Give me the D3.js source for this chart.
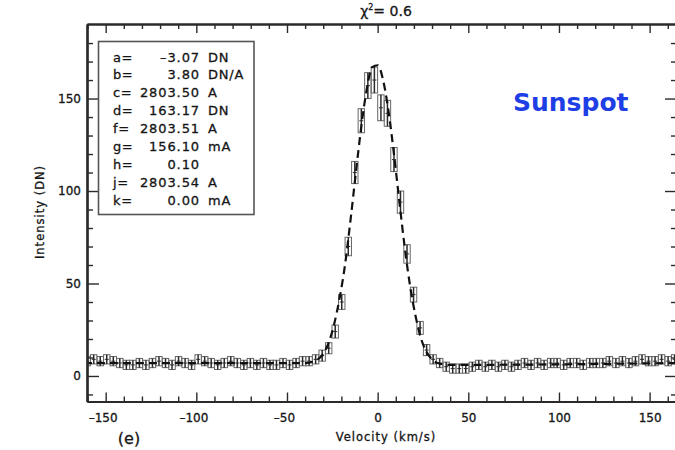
<!DOCTYPE html>
<html lang="en">
<head>
<meta charset="utf-8">
<script src="https://d3js.org/d3.v7.min.js"></script>
<style>
  body { margin: 0; background: #fff; }
  svg { display: block; }
  text { font-family: "DejaVu Sans", sans-serif; fill: #151515; stroke: #151515; stroke-width: 0.3; }
  .axis path, .axis line { stroke: #2a2a2a; }
  .axis .domain { stroke-width: 2.2; }
  .axis line { stroke-width: 1.4; }
  .axis text { font-size: 12px; font-family: "DejaVu Sans", sans-serif; fill: #151515; stroke: #151515; stroke-width: 0.3; }
</style>
</head>
<body>
<script>
// measured points (velocity in km/s, intensity in DN, 1-sigma error)
var velocity = [
  -160.2, -156.6, -153.0, -149.4, -145.8, -142.2, -138.6, -135.0, -131.4, -127.8,
  -124.2, -120.6, -117.0, -113.4, -109.8, -106.2, -102.6, -99.0, -95.4, -91.8,
  -88.2, -84.6, -81.0, -77.4, -73.8, -70.2, -66.6, -63.0, -59.4, -55.8,
  -52.2, -48.6, -45.0, -41.4, -37.8, -34.2, -30.6, -27.0, -23.4, -19.8,
  -16.2, -12.6, -9.0, -5.4, -1.8, 1.8, 5.4, 9.0, 12.6, 16.2,
  19.8, 23.4, 27.0, 30.6, 34.2, 37.8, 41.4, 45.0, 48.6, 52.2,
  55.8, 59.4, 63.0, 66.6, 70.2, 73.8, 77.4, 81.0, 84.6, 88.2,
  91.8, 95.4, 99.0, 102.6, 106.2, 109.8, 113.4, 117.0, 120.6, 124.2,
  127.8, 131.4, 135.0, 138.6, 142.2, 145.8, 149.4, 153.0, 156.6, 160.2,
  163.8
];
var intensity = [
  8, 9, 8, 9, 8, 7, 6, 6, 7, 6,
  7, 8, 7, 6, 8, 7, 6, 9, 8, 7,
  6, 7, 8, 7, 6, 7, 6, 7, 6, 6,
  7, 6, 7, 8, 8, 9, 11, 15, 24, 40,
  70, 110, 138, 157, 160, 145, 142, 117, 94, 66,
  44, 26, 14, 9, 7, 5, 4, 4, 4, 5,
  6, 5, 6, 5, 6, 5, 6, 7, 6, 7,
  6, 7, 7, 6, 7, 7, 6, 7, 7, 7,
  8, 7, 8, 7, 8, 9, 8, 8, 9, 8,
  9
];
var errors = [
  2.5, 2.5, 2.5, 2.5, 2.5, 2.5, 2.5, 2.5, 2.5, 2.5,
  2.5, 2.5, 2.5, 2.5, 2.5, 2.5, 2.5, 2.5, 2.5, 2.5,
  2.5, 2.5, 2.5, 2.5, 2.5, 2.5, 2.5, 2.5, 2.5, 2.5,
  2.5, 2.5, 2.5, 2.5, 2.5, 2.5, 3, 3, 3.5, 4,
  5, 6, 6.5, 7, 7, 7, 7, 6.5, 6, 5,
  4, 3.5, 3, 2.5, 2.5, 2.5, 2.5, 2.5, 2.5, 2.5,
  2.5, 2.5, 2.5, 2.5, 2.5, 2.5, 2.5, 2.5, 2.5, 2.5,
  2.5, 2.5, 2.5, 2.5, 2.5, 2.5, 2.5, 2.5, 2.5, 2.5,
  2.5, 2.5, 2.5, 2.5, 2.5, 2.5, 2.5, 2.5, 2.5, 2.5,
  2.5
];

// fitted profile (dashed)
var fitVelocity  = [-162, -40, -33, -30, -27, -24, -21, -18, -15, -12, -9, -6, -3, 0, 3, 6, 9, 12, 15, 18, 21, 24, 27, 30, 33, 40, 166];
var fitIntensity = [7, 7, 9, 12, 18, 28, 42, 60, 84, 110, 135, 155, 167, 168, 160, 143, 120, 94, 69, 48, 32, 20, 13, 9, 7, 6, 7];

var xMajorTicks = [-150, -100, -50, 0, 50, 100, 150];
var xMinorTicks = [-160, -140, -130, -120, -110, -90, -80, -70, -60, -40, -30, -20, -10,
                   10, 20, 30, 40, 60, 70, 80, 90, 110, 120, 130, 140, 160];
var yMajorTicks = [0, 50, 100, 150];
var yMinorTicks = [-10, 10, 20, 30, 40, 60, 70, 80, 90, 110, 120, 130, 140, 160, 170, 180];

var fitNames  = ["a=", "b=", "c=", "d=", "f=", "g=", "h=", "j=", "k="];
var fitValues = ["-3.07", "3.80", "2803.50", "163.17", "2803.51", "156.10", "0.10", "2803.54", "0.00"];
var fitUnits  = ["DN", "DN/A", "A", "DN", "A", "mA", "", "A", "mA"];

var width = 675, height = 450;
var plot = {left: 87, right: 677, top: 24, bottom: 401.5};

var svg = d3.select("body").append("svg")
    .attr("width", width)
    .attr("height", height);

var x = d3.scaleLinear().domain([-160.3, 165.1]).range([plot.left, plot.right]);
var y = d3.scaleLinear().domain([-13.8, 190.3]).range([plot.bottom, plot.top]);

svg.append("clipPath").attr("id", "clip")
  .append("rect")
    .attr("x", plot.left).attr("y", plot.top)
    .attr("width", plot.right - plot.left)
    .attr("height", plot.bottom - plot.top);

var points = velocity.map(function(v, i) {
  return {v: v, i: intensity[i], e: errors[i]};
});

// data: error box + bar
var pts = svg.append("g")
    .attr("clip-path", "url(#clip)")
    .selectAll("g")
    .data(points)
    .enter().append("g")
      .attr("stroke", "#2a2a2a")
      .attr("stroke-width", 1)
      .attr("fill", "none");

pts.append("rect")
    .attr("x", d => x(d.v) - 3.2)
    .attr("y", d => y(d.i + d.e))
    .attr("width", 6.4)
    .attr("height", d => y(d.i - d.e) - y(d.i + d.e))
    .attr("stroke", "#666");

pts.append("line")
    .attr("x1", d => x(d.v)).attr("x2", d => x(d.v))
    .attr("y1", d => y(d.i + d.e)).attr("y2", d => y(d.i - d.e))
    .attr("stroke-width", 1.5);

pts.append("line")
    .attr("x1", d => x(d.v) - 2).attr("x2", d => x(d.v) + 2)
    .attr("y1", d => y(d.i)).attr("y2", d => y(d.i));

// fitted line
var line = d3.line()
    .x((d, i) => x(fitVelocity[i]))
    .y(d => y(d))
    .curve(d3.curveMonotoneX);

svg.append("path")
    .attr("clip-path", "url(#clip)")
    .datum(fitIntensity)
    .attr("d", line)
    .attr("fill", "none")
    .attr("stroke", "#111")
    .attr("stroke-width", 2.2)
    .attr("stroke-dasharray", "8,5");

// axes, IDL style with inward ticks
function addAxis(axisFn, scale, ticks, size, transform, labels) {
  var ax = axisFn(scale).tickValues(ticks).tickSizeInner(-size).tickSizeOuter(0);
  if (labels) {
    ax.tickPadding(labels).tickFormat(d => d < 0 ? "\u2013" + Math.abs(d) : d);
  } else {
    ax.tickFormat("");
  }
  return svg.append("g")
      .attr("class", "axis")
      .attr("transform", transform)
      .call(ax);
}

addAxis(d3.axisBottom, x, xMinorTicks, 5, "translate(0," + plot.bottom + ")");
var xAx = addAxis(d3.axisBottom, x, xMajorTicks, 9, "translate(0," + plot.bottom + ")", 12);
addAxis(d3.axisTop, x, xMinorTicks, 5, "translate(0," + plot.top + ")");
addAxis(d3.axisTop, x, xMajorTicks, 9, "translate(0," + plot.top + ")");
addAxis(d3.axisLeft, y, yMinorTicks, 6, "translate(" + plot.left + ",0)");
addAxis(d3.axisLeft, y, yMajorTicks, 12, "translate(" + plot.left + ",0)", 6);
addAxis(d3.axisRight, y, yMinorTicks, 6, "translate(" + plot.right + ",0)");
addAxis(d3.axisRight, y, yMajorTicks, 12, "translate(" + plot.right + ",0)");

xAx.selectAll("text").attr("dx", d => d < 0 ? "-3" : "0");

// axis titles
svg.append("text")
    .attr("x", 386).attr("y", 441)
    .attr("text-anchor", "middle")
    .attr("font-size", 11.5)
    .attr("letter-spacing", 1)
    .text("Velocity (km/s)");

svg.append("text")
    .attr("transform", "translate(44,212) rotate(-90)")
    .attr("text-anchor", "middle")
    .attr("font-size", 11.5)
    .attr("letter-spacing", 1)
    .text("Intensity (DN)");

svg.append("text")
    .attr("x", 129).attr("y", 444)
    .attr("text-anchor", "middle")
    .attr("font-size", 16)
    .text("(e)");

// chi square title
var chi = svg.append("text")
    .attr("x", 386).attr("y", 16)
    .attr("text-anchor", "middle")
    .attr("font-size", 14);
chi.append("tspan").text("\u03c7");
chi.append("tspan").attr("font-size", 8).attr("dy", -6).text("2");
chi.append("tspan").attr("dy", 6).text("= 0.6");

// fit parameter box
svg.append("rect")
    .attr("x", 98.5).attr("y", 41.5)
    .attr("width", 155.5).attr("height", 173)
    .attr("fill", "none")
    .attr("stroke", "#555")
    .attr("stroke-width", 1.6);

var rows = svg.append("g")
    .selectAll("g")
    .data(fitNames)
    .enter().append("g")
      .attr("transform", (d, i) => "translate(0," + (61.5 + i * 17.9) + ")")
      .attr("font-size", 13);

rows.append("text").attr("x", 113).attr("letter-spacing", 0.6).text(d => d);
rows.append("text").attr("x", 200).attr("text-anchor", "end").attr("letter-spacing", 0.9)
    .text((d, i) => fitValues[i].replace("-", "\u2013"));
rows.append("text").attr("x", 208).attr("letter-spacing", 0.8).text((d, i) => fitUnits[i]);

// label
svg.append("text")
    .attr("x", 513).attr("y", 111)
    .attr("font-family", "Lato, 'Open Sans', sans-serif")
    .attr("font-weight", 700)
    .attr("font-size", 25)
    .style("fill", "#1f3fe6")
    .style("stroke", "none")
    .text("Sunspot");
</script>
</body>
</html>
